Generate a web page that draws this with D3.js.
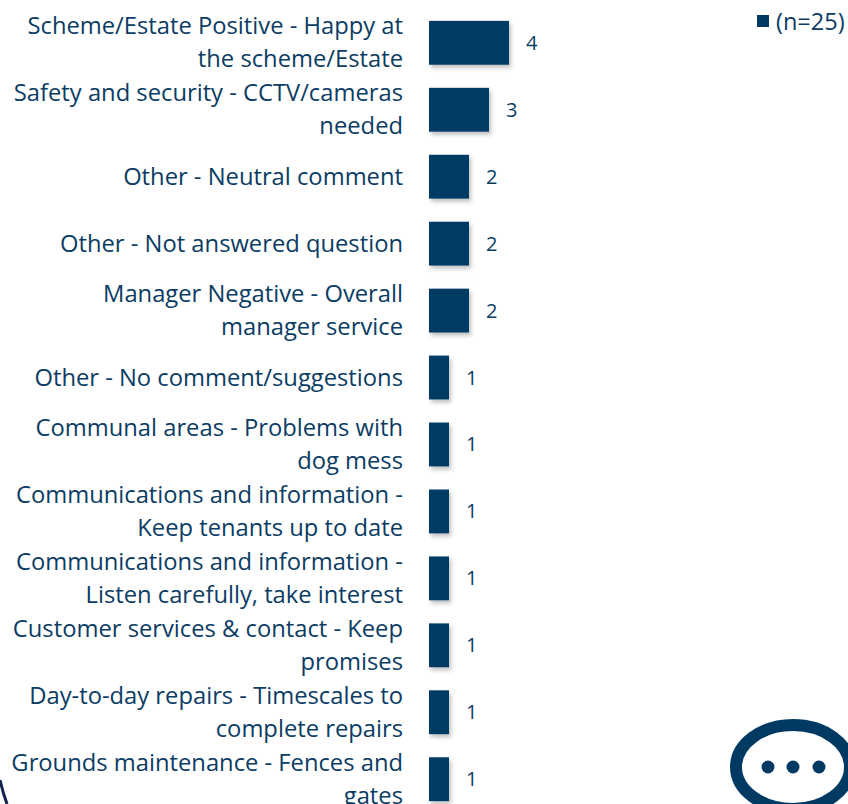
<!DOCTYPE html>
<html>
<head>
<meta charset="utf-8">
<script src="https://cdn.jsdelivr.net/npm/d3@7"></script>
<style>
  html, body { margin: 0; padding: 0; background: #fff; overflow: hidden; }
  text { font-family: "Open Sans", sans-serif; fill: #0b3c64; }
</style>
</head>
<body>
<div id="chart"></div>
<script>
const categories = [
  "Scheme/Estate Positive - Happy at\nthe scheme/Estate",
  "Safety and security - CCTV/cameras\nneeded",
  "Other - Neutral comment",
  "Other - Not answered question",
  "Manager Negative - Overall\nmanager service",
  "Other - No comment/suggestions",
  "Communal areas - Problems with\ndog mess",
  "Communications and information -\nKeep tenants up to date",
  "Communications and information -\nListen carefully, take interest",
  "Customer services & contact - Keep\npromises",
  "Day-to-day repairs - Timescales to\ncomplete repairs",
  "Grounds maintenance - Fences and\ngates"
];
const values = [4, 3, 2, 2, 2, 1, 1, 1, 1, 1, 1, 1];
const legendLabel = "(n=25)";

const width = 848;
const height = 804;
const barColor = "#003a63";

const svg = d3.select("#chart")
  .append("svg")
  .attr("width", width)
  .attr("height", height);

const shadow = svg.append("defs").append("filter")
  .attr("id", "shadow")
  .attr("x", "-30%").attr("y", "-30%")
  .attr("width", "170%").attr("height", "170%");
shadow.append("feDropShadow")
  .attr("dx", 2).attr("dy", 3)
  .attr("stdDeviation", 2.2)
  .attr("flood-color", "#000")
  .attr("flood-opacity", 0.25);

const x = d3.scaleLinear().domain([0, 4]).range([429, 509]);
const y = d3.scaleBand()
  .domain(categories)
  .range([9.5, 812.5])
  .paddingInner(0.345)
  .paddingOuter(0.17);

// bits of the slide behind the chart: corner arc and speech bubble
svg.append("path")
  .attr("d", "M0,780 Q3,793 7,804")
  .attr("fill", "none")
  .attr("stroke", "#14224f")
  .attr("stroke-width", 3);

svg.append("ellipse")
  .attr("cx", 793).attr("cy", 767)
  .attr("rx", 57).attr("ry", 42)
  .attr("fill", "#fff")
  .attr("stroke", barColor)
  .attr("stroke-width", 12);

svg.append("g")
  .attr("fill", barColor)
  .selectAll("circle")
  .data([768, 793, 819])
  .join("circle")
    .attr("cx", d => d)
    .attr("cy", 767)
    .attr("r", 6.5);

svg.append("g")
  .selectAll("rect")
  .data(values)
  .join("rect")
    .attr("x", x(0))
    .attr("y", (d, i) => y(categories[i]))
    .attr("width", d => x(d) - x(0))
    .attr("height", y.bandwidth())
    .attr("fill", barColor)
    .attr("filter", "url(#shadow)");

const yAxis = svg.append("g")
  .attr("transform", "translate(403,0)")
  .call(d3.axisLeft(y).tickSize(0).tickPadding(0));
yAxis.select(".domain").remove();

yAxis.selectAll(".tick text")
  .attr("font-size", 23.75)
  .attr("font-family", null)
  .attr("text-anchor", "end")
  .each(function (d) {
    const lines = d.split("\n");
    const t = d3.select(this).text(null).attr("dy", null);
    lines.forEach((line, i) => {
      t.append("tspan")
        .attr("x", 0)
        .attr("y", (i - (lines.length - 1) / 2) * 33 + 8)
        .text(line);
    });
  });

svg.append("g")
  .selectAll("text")
  .data(values)
  .join("text")
    .attr("x", d => x(d) + 17)
    .attr("y", (d, i) => y(categories[i]) + y.bandwidth() / 2 + 7)
    .attr("font-size", 20)
    .text(d => d);

svg.append("rect")
  .attr("x", 757).attr("y", 15)
  .attr("width", 12).attr("height", 12)
  .attr("fill", barColor);
svg.append("text")
  .attr("x", 776).attr("y", 30)
  .attr("font-size", 23.5)
  .text(legendLabel);
</script>
</body>
</html>
